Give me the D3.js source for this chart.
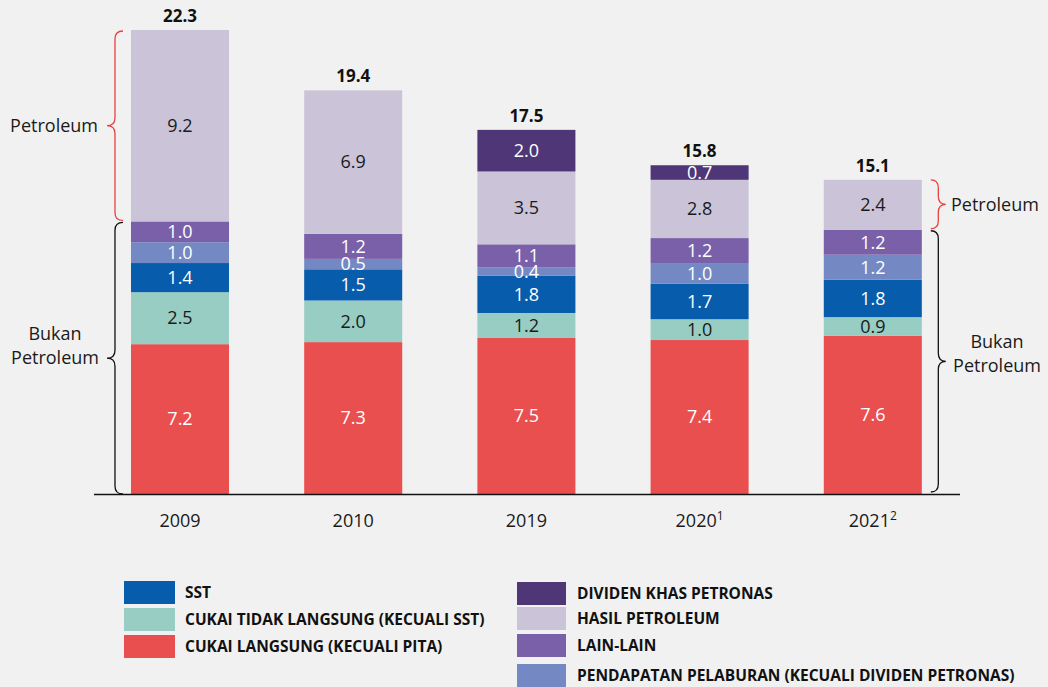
<!DOCTYPE html>
<html><head><meta charset="utf-8">
<script src="https://cdn.jsdelivr.net/npm/d3@7"></script>
<style>
html,body{margin:0;padding:0;background:#f1f1f1;}
svg{display:block;font-family:"Open Sans","Noto Sans",sans-serif;}
</style></head>
<body>
<svg id="c" width="1048" height="687"></svg>
<script>
const years = ["2009","2010","2019","2020","2021"];
const yearSup = ["","","","1","2"];
const cukaiLangsung = [7.2,7.3,7.5,7.4,7.6];
const cukaiTidakLangsung = [2.5,2.0,1.2,1.0,0.9];
const sst = [1.4,1.5,1.8,1.7,1.8];
const pelaburan = [1.0,0.5,0.4,1.0,1.2];
const lainLain = [1.0,1.2,1.1,1.2,1.2];
const hasilPetroleum = [9.2,6.9,3.5,2.8,2.4];
const dividen = [0,0,2.0,0.7,0];
const totals = [22.3,19.4,17.5,15.8,15.1];

const seriesKeys = ["cl","ctl","sst","pp","ll","hp","dk"];
const seriesVals = {cl:cukaiLangsung,ctl:cukaiTidakLangsung,sst:sst,pp:pelaburan,ll:lainLain,hp:hasilPetroleum,dk:dividen};
const colors = {cl:"#e94f4e",ctl:"#97cdc3",sst:"#075cab",pp:"#7489c4",ll:"#7a60a9",hp:"#cbc4d8",dk:"#4f3677"};
const textColors = {cl:"#fff",ctl:"#1a1a1a",sst:"#fff",pp:"#fff",ll:"#fff",hp:"#1a1a1a",dk:"#fff"};

const legendLeft = [["sst","SST"],["ctl","CUKAI TIDAK LANGSUNG (KECUALI SST)"],["cl","CUKAI LANGSUNG (KECUALI PITA)"]];
const legendRight = [["dk","DIVIDEN KHAS PETRONAS"],["hp","HASIL PETROLEUM"],["ll","LAIN-LAIN"],["pp","PENDAPATAN PELABURAN (KECUALI DIVIDEN PETRONAS)"]];

const svg = d3.select("#c");
const table = years.map((y,i)=>{const o={year:y}; seriesKeys.forEach(k=>o[k]=seriesVals[k][i]); return o;});
const stack = d3.stack().keys(seriesKeys)(table);

const x = d3.scaleBand().domain(years).range([93.4,959.4]).paddingInner(0.434).paddingOuter(0.217);
const y = d3.scaleLinear().domain([0,22.3]).range([494,30]);

const g = svg.append("g");
stack.forEach(layer=>{
  const k = layer.key;
  g.selectAll(null).data(layer).join("rect")
    .attr("x",(d,i)=>x(years[i]))
    .attr("width",x.bandwidth())
    .attr("y",d=>y(d[1]))
    .attr("height",d=>y(d[0])-y(d[1]))
    .attr("fill",colors[k]);
});
stack.forEach(layer=>{
  const k = layer.key;
  g.selectAll(null).data(layer.filter(d=>d[1]-d[0]>0)).join("text")
    .attr("x",d=>x(d.data.year)+x.bandwidth()/2)
    .attr("y",d=>(y(d[0])+y(d[1]))/2)
    .attr("dy","0.35em")
    .attr("text-anchor","middle")
    .attr("font-size",18)
    .attr("fill",textColors[k])
    .text(d=>(d[1]-d[0]).toFixed(1));
});

// totals
g.selectAll(null).data(totals).join("text")
  .attr("x",(d,i)=>x(years[i])+x.bandwidth()/2)
  .attr("y",d=>y(d)-8)
  .attr("text-anchor","middle")
  .attr("font-size",17).attr("font-weight","bold").attr("fill","#111")
  .text(d=>d.toFixed(1));

// axis line
svg.append("line").attr("x1",94).attr("x2",960).attr("y1",494.5).attr("y2",494.5).attr("stroke","#111").attr("stroke-width",1.3);

// year labels
const yl = svg.selectAll(null).data(years).join("text")
  .attr("x",d=>x(d)+x.bandwidth()/2)
  .attr("y",527)
  .attr("text-anchor","middle")
  .attr("font-size",18).attr("fill","#1a1a1a");
yl.each(function(d,i){
  const t=d3.select(this);
  t.append("tspan").text(d);
  if(yearSup[i]) t.append("tspan").attr("font-size",12).attr("dy",-7).text(yearSup[i]);
});

// braces
function brace(xe, y0, y1, dir, w){
  const xm = xe + dir*w/2, tip = xe + dir*w, ym=(y0+y1)/2, r=Math.min(8,(y1-y0)/4);
  return `M${xe},${y0} Q${xm},${y0} ${xm},${y0+r} L${xm},${ym-r} Q${xm},${ym} ${tip},${ym} Q${xm},${ym} ${xm},${ym+r} L${xm},${y1-r} Q${xm},${y1} ${xe},${y1}`;
}
const red="#e8423f";
const p0 = totals[0]-hasilPetroleum[0]-dividen[0];
const p4 = totals[4]-hasilPetroleum[4]-dividen[4];
const xl = x(years[0])-8, xr = x(years[4])+x.bandwidth()+9;
svg.append("path").attr("d",brace(xl,y(totals[0])+1,y(p0)-1,-1,16)).attr("fill","none").attr("stroke",red).attr("stroke-width",1.3);
svg.append("path").attr("d",brace(xl,y(p0)+1,y(0),-1,16)).attr("fill","none").attr("stroke","#111").attr("stroke-width",1.3);
svg.append("path").attr("d",brace(xr,y(totals[4]),y(p4)-1,1,15)).attr("fill","none").attr("stroke",red).attr("stroke-width",1.3);
svg.append("path").attr("d",brace(xr,y(p4)+1,y(0)-2,1,15)).attr("fill","none").attr("stroke","#111").attr("stroke-width",1.3);

function label(xp, yp, anchor, lines){
  const t = svg.append("text").attr("x",xp).attr("y",yp).attr("text-anchor",anchor).attr("font-size",18).attr("fill","#1a1a1a");
  lines.forEach((l,i)=>t.append("tspan").attr("x",xp).attr("dy",i===0?`${0.35-(lines.length-1)*0.65}em`:"1.3em").text(l));
}
label(98,(y(totals[0])+y(p0))/2,"end",["Petroleum"]);
label(55,(y(p0)+y(0))/2-12,"middle",["Bukan","Petroleum"]);
label(951,(y(totals[4])+y(p4))/2,"start",["Petroleum"]);
label(997,(y(p4)+y(0))/2-8,"middle",["Bukan","Petroleum"]);

// legend
const lg = svg.append("g");
legendLeft.forEach((d,i)=>{
  const yy = 581 + i*27;
  lg.append("rect").attr("x",124).attr("y",yy).attr("width",51).attr("height",23).attr("fill",colors[d[0]]);
  lg.append("text").attr("x",185).attr("y",yy+11.5).attr("dy","0.35em").attr("font-size",15.5).attr("font-weight","bold").attr("fill","#111").text(d[1]);
});
const ryy=[582,607,634,664];
legendRight.forEach((d,i)=>{
  const yy = ryy[i];
  lg.append("rect").attr("x",517).attr("y",yy).attr("width",49).attr("height",23).attr("fill",colors[d[0]]);
  lg.append("text").attr("x",577).attr("y",yy+11.5).attr("dy","0.35em").attr("font-size",15.5).attr("font-weight","bold").attr("fill","#111").text(d[1]);
});
</script>
</body></html>
